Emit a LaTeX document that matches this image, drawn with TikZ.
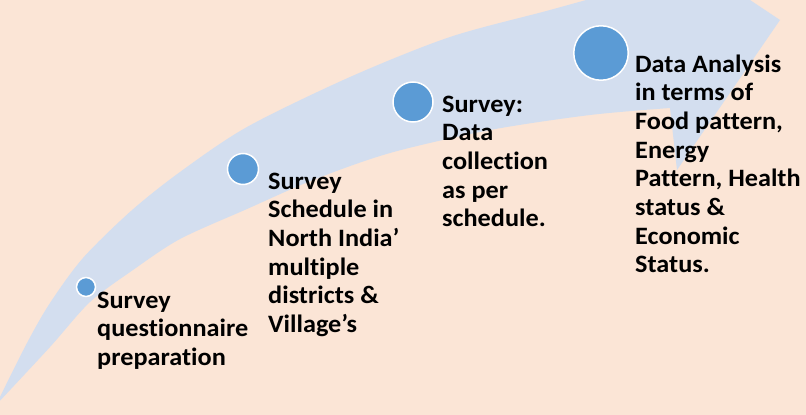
\documentclass[tikz,border=0pt]{standalone}
\usepackage{fontspec}
\setmainfont{Carlito}[Ligatures=NoCommon, FakeStretch=1.05]
\definecolor{peach}{HTML}{FBE5D6}
\definecolor{bandblue}{HTML}{D3DEEF}
\definecolor{dotblue}{HTML}{5B9BD5}
\begin{document}
\begin{tikzpicture}[x=1pt,y=-1pt]
        \useasboundingbox (0,0) rectangle (806,415);
        \fill[peach] (0,0) rectangle (806,415);
        \begin{scope}
            \clip (0,0) rectangle (806,415);
            \fill[bandblue] plot[smooth] coordinates {(-4,405) (27,343) (50,303) (83,258) (131,211) (180,172) (247,127) (350,77) (450,37) (550,10) (640,-15)}
                -- (705,-30) -- (780,20) -- (677,170)
                -- plot[smooth] coordinates {(670,108) (590,115) (490,130) (390,153) (313,180) (247,209) (180,239) (133,270) (90,302) (50,347) (-4,405)}
                -- cycle;
        \end{scope}
        \begin{scope}[every node/.style={circle, fill=dotblue, draw=white, line width=1.5pt, inner sep=0pt}]
            \node[minimum size=19pt] (p1) at (86,287) {};
            \node[minimum size=31pt] (p2) at (243,169) {};
            \node[minimum size=40pt] (p3) at (413,102) {};
            \node[minimum size=54.5pt] (p4) at (601,53) {};
        \end{scope}
        \begin{scope}[every node/.style={anchor=base west, align=left, inner sep=0pt,
                font=\bfseries\fontsize{25}{28.7}\selectfont}]
            \node (t1) at (97,365.4) {Survey\\questionnaire\\preparation};
            \node (t2) at (268,332.5) {Survey\\Schedule in\\North India’\\multiple\\districts \&\\Village’s};
            \node (t3) at (442,226.8) {Survey:\\Data\\collection\\as per\\schedule.};
            \node (t4) at (635,272.9) {Data Analysis\\in terms of\\Food pattern,\\Energy\\Pattern, Health\\status \&\\Economic\\Status.};
        \end{scope}
    \end{tikzpicture}
\end{document}
